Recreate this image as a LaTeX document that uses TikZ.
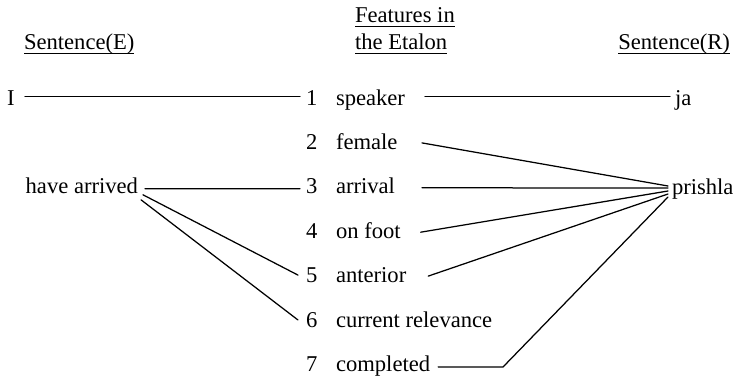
\documentclass[tikz,border=0pt]{standalone}
\usepackage{fontspec}
\setmainfont{Liberation Serif}
\begin{document}
\begin{tikzpicture}[x=1pt,y=-1pt,
    lbl/.style={inner sep=0pt,outer sep=0pt,anchor=base west,font=\fontsize{22.6}{27}\selectfont},
    lblr/.style={lbl,anchor=base east},
    link/.style={line width=1.25pt,line cap=round,line join=round},
    uline/.style={line width=1.5pt}]
  \useasboundingbox[fill=white] (0,0) rectangle (740,380);

  % column headings
  \node[lbl]  (hdrA) at (355,22) {Features in};
  \node[lbl]  (hdrB) at (355,49) {the Etalon};
  \node[lbl]  (sentE) at (24,49) {Sentence(E)};
  \node[lblr] (sentR) at (730,49) {Sentence(R)};
  \foreach \n in {hdrA,hdrB,sentE,sentR}
    \draw[uline] ([yshift=-4.5pt]\n.base west) -- ([yshift=-4.5pt]\n.base east);

  % English sentence
  \node[lbl]  (wI) at (7,105) {I};
  \node[lblr] (wHave) at (138,193.8) {have arrived};

  % etalon features
  \foreach \i/\t in {1/speaker,2/female,3/arrival,4/on foot,5/anterior,6/current relevance,7/completed}{
    \node[lbl] (n\i) at (306,{105+44.4*(\i-1)}) {\i};
    \node[lbl] (f\i) at (336,{105+44.4*(\i-1)}) {\t};
  }

  % Russian sentence
  \node[lbl] (wJa) at (675,105) {ja};
  \node[lbl] (wPrishla) at (672,194) {prishla};

  % English to features
  \draw[link] ([xshift=10.5pt,yshift=8.5pt]wI.base east) -- ([xshift=-6pt,yshift=8.5pt]n1.base west);
  \draw[link] ([xshift=7pt,yshift=5pt]wHave.base east) -- ([xshift=-6pt,yshift=5pt]n3.base west);
  \draw[link] ([xshift=5pt,yshift=-1pt]wHave.base east) -- ([xshift=-8pt,yshift=7.5pt]n5.base west);
  \draw[link] ([xshift=3pt,yshift=-6pt]wHave.base east) -- ([xshift=-8pt,yshift=7pt]n6.base west);

  % features to Russian
  \draw[link] ([xshift=20pt,yshift=8.5pt]f1.base east) -- ([xshift=-5pt,yshift=8.5pt]wJa.base west);
  \draw[link] ([xshift=24.5pt,yshift=6.5pt]f2.base east) -- ([xshift=-4pt,yshift=8pt]wPrishla.base west);
  \draw[link] ([xshift=27pt,yshift=6pt]f3.base east) -- ([xshift=-4pt,yshift=6pt]wPrishla.base west);
  \draw[link] ([xshift=20pt,yshift=6pt]f4.base east) -- ([xshift=-4pt,yshift=3pt]wPrishla.base west);
  \draw[link] ([xshift=22pt,yshift=6.5pt]f5.base east) -- ([xshift=-4pt]wPrishla.base west);
  \coordinate (bend) at (503,367);
  \draw[link] ([xshift=8pt,yshift=4.5pt]f7.base east) -- (bend) -- ([xshift=-4pt,yshift=-3pt]wPrishla.base west);
\end{tikzpicture}
\end{document}
